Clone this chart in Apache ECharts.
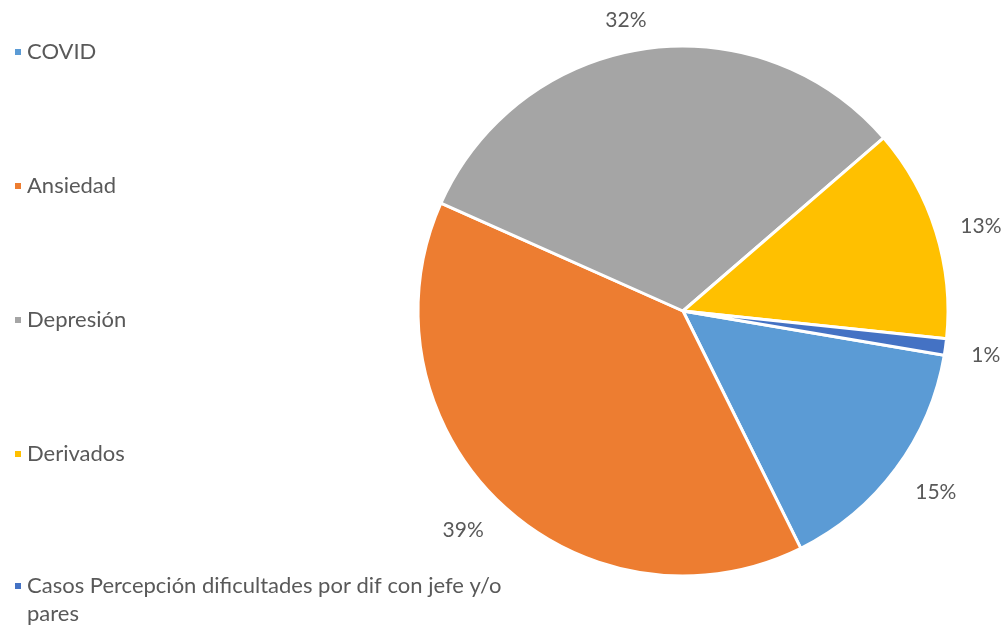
<!DOCTYPE html>
<html>
<head>
<meta charset="utf-8">
<script src="https://cdn.jsdelivr.net/npm/echarts@6/dist/echarts.min.js"></script>
<style>
html,body{margin:0;padding:0;background:#fff;}
#chart{width:1006px;height:632px;}
</style>
</head>
<body>
<div id="chart"></div>
<script>
const categories = ['COVID', 'Ansiedad', 'Depresión', 'Derivados', 'Casos Percepción dificultades por dif con jefe y/o pares'];
const values = [15, 39, 32, 13, 1];
const colors = ['#5B9BD5', '#ED7D31', '#A5A5A5', '#FFC000', '#4472C4'];
const lastLegendText = '\nCasos Percepción dificultades por dif con jefe y/o\npares';

const FONT = 'Lato';
const chart = echarts.init(document.getElementById('chart'));
chart.setOption({
  animation: false,
  color: colors,
  legend: [{
    orient: 'vertical',
    left: 8,
    top: 34,
    height: 1200,
    itemWidth: 8,
    itemHeight: 8,
    itemGap: 108,
    icon: 'rect',
    data: categories.slice(0, 4),
    textStyle: { color: '#595959', fontSize: 22, fontFamily: FONT, lineHeight: 26 }
  }, {
    orient: 'vertical',
    left: 8,
    top: 539,
    height: 1200,
    itemWidth: 8,
    itemHeight: 8,
    icon: 'rect',
    data: [categories[4]],
    formatter: function () { return lastLegendText; },
    textStyle: { color: '#595959', fontSize: 22, fontFamily: FONT, lineHeight: 28 }
  }],
  series: [{
    type: 'pie',
    center: [683, 311],
    radius: 265,
    startAngle: -9.6,
    clockwise: true,
    avoidLabelOverlap: false,
    percentPrecision: 0,
    itemStyle: { borderColor: '#fff', borderWidth: 3 },
    label: {
      show: true,
      position: 'outside',
      formatter: '{p|{d}%}',
      color: '#595959',
      fontSize: 21,
      fontFamily: FONT,
      rich: { p: { color: '#595959', fontSize: 21, fontFamily: FONT, padding: [8, 0, 0, 0] } },
      distanceToLabelLine: -7
    },
    labelLine: { show: false, length: 33, length2: 0 },
    emphasis: { disabled: true },
    data: categories.map((c, i) => ({ name: c, value: values[i] }))
  }]
});
</script>
</body>
</html>
